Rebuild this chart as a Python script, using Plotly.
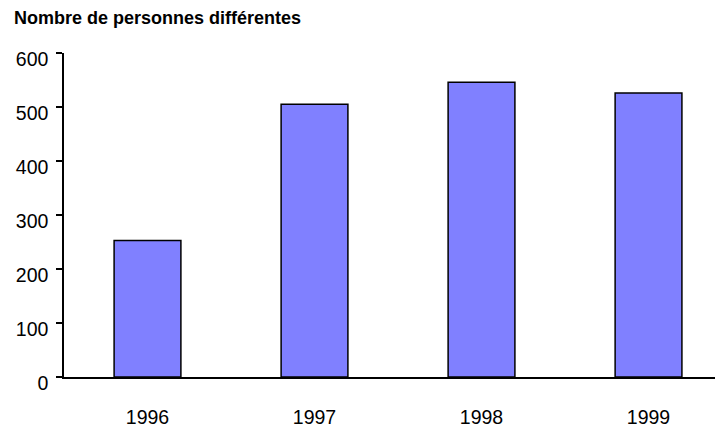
import plotly.graph_objects as go

years = ["1996", "1997", "1998", "1999"]
values = [253, 505, 546, 526]
y_ticks = [0, 100, 200, 300, 400, 500, 600]

fig = go.Figure()
fig.add_trace(go.Bar(
    x=years, y=values, width=0.4,
    marker=dict(color="#8080FF", line=dict(color="black", width=1.5)),
))

fig.update_layout(
    width=715, height=420,
    margin=dict(l=56, r=0, t=45, b=39),
    plot_bgcolor="white", paper_bgcolor="white",
    font=dict(family="Liberation Sans, Arial, sans-serif", color="black", size=19),
    showlegend=False,
)
fig.update_xaxes(
    type="category", range=[-0.5, 3.446],
    showline=True, linecolor="black", linewidth=1.5,
    ticks="", ticklabelstandoff=22, showgrid=False,
    tickfont=dict(size=19.5),
)
fig.update_yaxes(
    range=[0, 600], tickvals=y_ticks,
    showline=True, linecolor="black", linewidth=1.5,
    ticks="outside", ticklen=6, tickcolor="black", tickwidth=1.5,
    showgrid=False, zeroline=False, ticklabelstandoff=4, ticklabelshift=6,
    tickfont=dict(size=19.5),
)
# small stub of the y axis below the x axis, as in the original
fig.add_shape(
    type="line", xref="paper", x0=0, x1=0,
    yref="y", ysizemode="pixel", yanchor=0, y0=0, y1=-5,
    line=dict(color="black", width=1.5),
)
fig.add_annotation(
    text="<b>Nombre de personnes différentes</b>",
    xref="paper", yref="paper", x=0, y=1,
    xshift=-52, yshift=35, xanchor="left", yanchor="middle",
    showarrow=False, font=dict(size=18, color="black"),
)
fig.write_html("out.html")
